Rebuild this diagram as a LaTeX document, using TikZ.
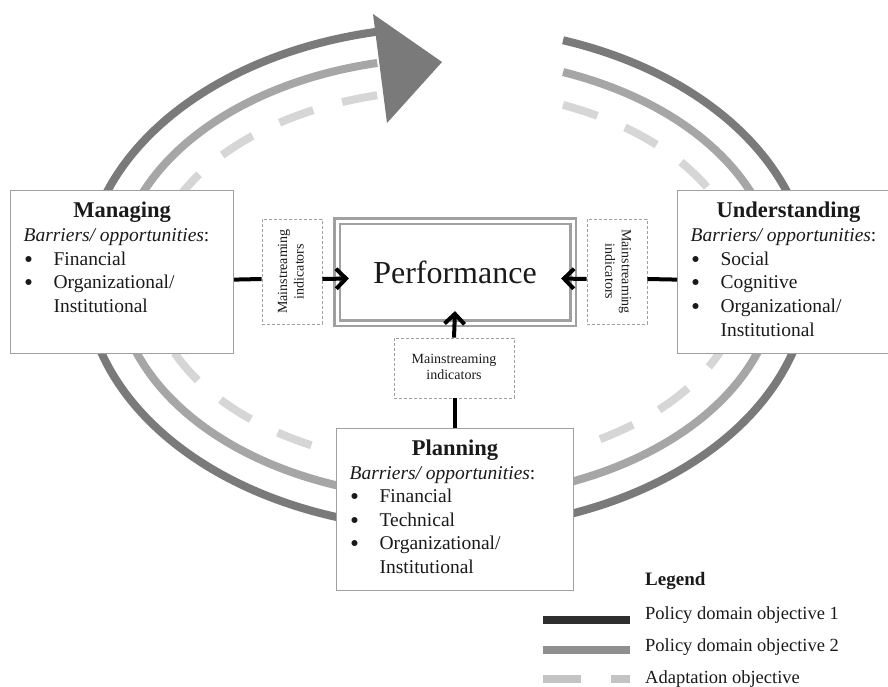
\documentclass[tikz,border=0pt]{standalone}
\usepackage{fontspec}
\setmainfont{Liberation Serif}
\usepackage{graphicx}
\usetikzlibrary{arrows.meta}
\definecolor{arcA}{HTML}{7A7A7A}
\definecolor{arcB}{HTML}{A6A6A6}
\definecolor{arcC}{HTML}{D6D6D6}
\definecolor{legA}{HTML}{2E2E2E}
\definecolor{legB}{HTML}{8F8F8F}
\definecolor{legC}{HTML}{C4C4C4}
\definecolor{boxline}{HTML}{A0A0A0}
\definecolor{txt}{HTML}{1A1A1A}
\newcommand{\bsub}{\par\noindent\hspace*{13pt}\textit{Barriers/ opportunities}:}
\newcommand{\bdot}{{\setlength{\unitlength}{1pt}\begin{picture}(28,0)\put(3,6){\circle*{6}}\end{picture}}}
\newcommand{\bul}[1]{\par\noindent\hspace*{15pt}\bdot#1}
\newcommand{\bcont}[1]{\par\noindent\hspace*{43pt}#1}
\newcommand{\btitle}[1]{{\centering\fontsize{22.5}{23.7}\selectfont\bfseries\rule{0pt}{27pt}#1\par}}
\newcommand{\mstext}{\begin{tabular}{@{}c@{}}Mainstreaming\\indicators\end{tabular}}
\begin{document}
\begin{tikzpicture}[x=1pt,y=-1pt,
  arcline/.style={line width=8pt},
  adash/.style={line width=8pt, arcC, dash pattern=on 36pt off 30pt},
  domainbox/.style={draw=boxline, line width=1.2pt, fill=white, inner sep=0pt, anchor=north west, text=txt},
  indbox/.style={draw=boxline, line width=0.9pt, fill=white, dash pattern=on 3pt off 2pt, font=\fontsize{14}{16.5}\selectfont, inner sep=0pt, text=txt},
  perfbox/.style={draw=boxline, double=white, double distance=3pt, line width=2.2pt, fill=white, minimum width=236pt, minimum height=102pt, font=\fontsize{32}{36}\selectfont, text=txt},
  conn/.style={line width=4pt, black},
  connarrow/.style={conn, -{Straight Barb[length=10pt,width=20pt]}},
  legtext/.style={anchor=base west, font=\fontsize{18.5}{22}\selectfont, text=txt, inner sep=0pt}
]
\useasboundingbox (0,0) rectangle (888,686);
\clip (0,0) rectangle (888,686);
\fill[white] (0,0) rectangle (888,686);

% cycle arcs
\draw[arcline, arcA] (447,278) ++(-71.3:362 and 251) arc[start angle=-71.3, end angle=258.9, x radius=362, y radius=251];
\draw[arcline, arcB] (447,278) ++(-69.4:330 and 220) arc[start angle=-69.4, end angle=257.8, x radius=330, y radius=220];
\draw[adash] (447,278) ++(-67:297 and 188) arc[start angle=-67, end angle=256.4, x radius=297, y radius=188];
\fill[arcA] (373,14) -- (442,62) -- (387,123) -- cycle;

% domain boxes
\node[domainbox] (mg) at (10,190) {\parbox[b][163pt][t]{223pt}{\fontsize{19.5}{23.7}\selectfont
  \btitle{Managing}\bsub\bul{Financial}\bul{Organizational/}\bcont{Institutional}\par}};
\node[domainbox] (un) at (677,190) {\parbox[b][163pt][t]{222pt}{\fontsize{19.5}{23.7}\selectfont
  \btitle{Understanding}\bsub\bul{Social}\bul{Cognitive}\bul{Organizational/}\bcont{Institutional}\par}};
\node[domainbox] (pl) at (336,428) {\parbox[b][162pt][t]{237pt}{\fontsize{19.5}{23.5}\selectfont
  \btitle{Planning}\bsub\bul{Financial}\bul{Technical}\bul{Organizational/}\bcont{Institutional}\par}};

% performance
\node[perfbox] (pf) at (455,272) {Performance};

% indicator boxes
\node[indbox, minimum width=60pt, minimum height=105pt] (li) at (292,271.5) {\rotatebox{90}{\mstext}};
\node[indbox, minimum width=60pt, minimum height=105pt] (ri) at (617,271.5) {\rotatebox{-90}{\mstext}};
\node[indbox, minimum width=120pt, minimum height=60pt] (bi) at (454,368) {\mstext};

% connectors
\draw[conn] ([yshift=-7.5pt]mg.east) -- ([yshift=-7.5pt]li.west);
\draw[connarrow] ([yshift=-7.5pt]li.east) -- ([yshift=-6.5pt,xshift=13pt]pf.west);
\draw[conn] ([yshift=-7.5pt]un.west) -- ([yshift=-7.5pt]ri.east);
\draw[connarrow] ([yshift=-7.5pt]ri.west) -- ([yshift=-6.5pt,xshift=-13pt]pf.east);
\draw[conn] (pl.north) -- (pl.north |- bi.south);
\draw[connarrow] (bi.north) -- ([yshift=13pt]pf.south);

% legend
\node[anchor=base west, font=\fontsize{19}{22}\selectfont\bfseries, text=txt, inner sep=0pt] (lg) at (645,585) {Legend};
\draw[line width=8pt, legA] (543,620) -- (630,620);
\node[legtext] (l1) at (645,619) {Policy domain objective 1};
\draw[line width=8pt, legB] (543,650) -- (630,650);
\node[legtext] (l2) at (645,651) {Policy domain objective 2};
\draw[line width=8pt, legC, dash pattern=on 38pt off 30pt] (543,679) -- (630,679);
\node[legtext] (l3) at (645,683) {Adaptation objective};
\end{tikzpicture}
\end{document}
